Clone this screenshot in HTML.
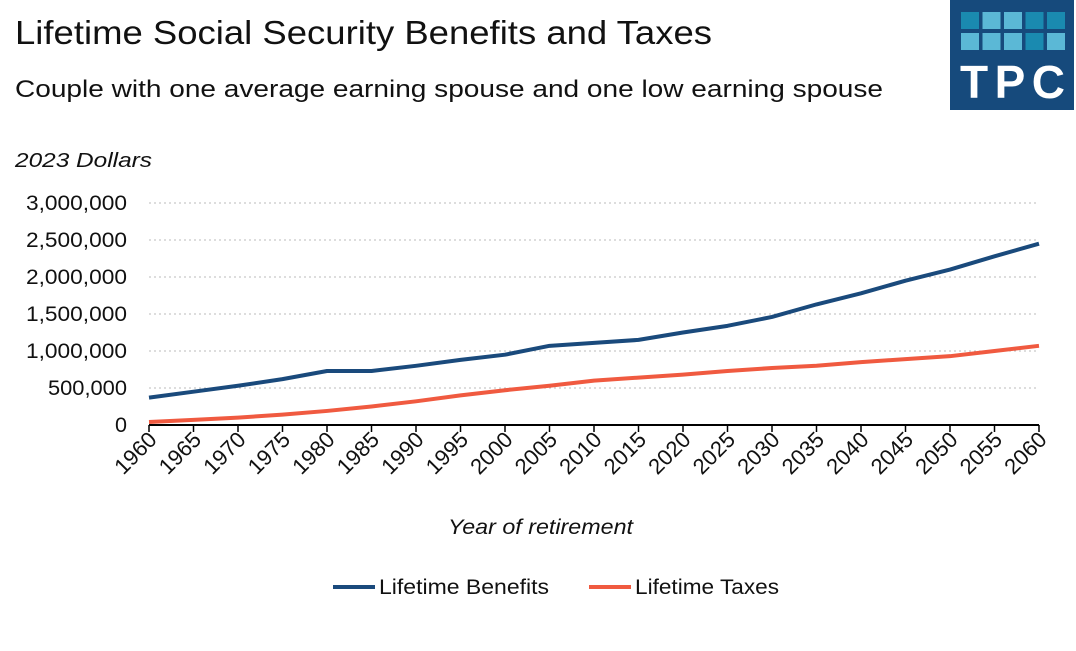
<!DOCTYPE html>
<html><head><meta charset="utf-8"><style>
body{margin:0;background:#fff;width:1076px;height:646px;overflow:hidden;font-family:"Liberation Sans",sans-serif}
</style></head><body>
<svg id="s" width="1076" height="646" xmlns="http://www.w3.org/2000/svg" font-family="Liberation Sans, sans-serif">
<text x="15" y="44" font-size="33" fill="#111" textLength="697" lengthAdjust="spacingAndGlyphs">Lifetime Social Security Benefits and Taxes</text>
<text x="15" y="97" font-size="24" fill="#111" textLength="868" lengthAdjust="spacingAndGlyphs">Couple with one average earning spouse and one low earning spouse</text>
<text x="15" y="167" font-size="20" font-style="italic" fill="#111" textLength="137" lengthAdjust="spacingAndGlyphs">2023 Dollars</text>
<rect x="950" y="0" width="124" height="110" fill="#164a7c"/>
<g id="logo"></g>
<text x="960" y="98" font-size="46" font-weight="bold" fill="#fff" textLength="105" lengthAdjust="spacing">TPC</text>
<g id="g"></g>
<text x="448" y="534" font-size="21" font-style="italic" fill="#111" textLength="185" lengthAdjust="spacingAndGlyphs">Year of retirement</text>
<line x1="333" y1="587" x2="375" y2="587" stroke="#1a4a7c" stroke-width="4"/>
<text x="379" y="594" font-size="21" fill="#111" textLength="170" lengthAdjust="spacingAndGlyphs">Lifetime Benefits</text>
<line x1="589" y1="587" x2="631" y2="587" stroke="#f05a40" stroke-width="4"/>
<text x="635" y="594" font-size="21" fill="#111" textLength="144" lengthAdjust="spacingAndGlyphs">Lifetime Taxes</text>
</svg>
<script>
var ns="http://www.w3.org/2000/svg",g=document.getElementById('g'),h='';
var X=function(i){return 149+i*44.5},Y=function(v){return 425-v*222/3000000};
for(var k=1;k<=6;k++){var y=Y(k*500000);h+='<line x1="149" x2="1039" y1="'+y+'" y2="'+y+'" stroke="#bbb" stroke-dasharray="2,3"/>';}
for(var k=0;k<=6;k++){var s=(k==0?'0':(k*500000).toLocaleString('en-US'));var w=s.length==9?101:(s.length==7?79:12);
h+='<text x="'+(127-w)+'" y="'+(Y(k*500000)+7)+'" font-size="21" fill="#111" textLength="'+w+'" lengthAdjust="spacingAndGlyphs">'+s+'</text>';}
h+='<line x1="149" x2="1039" y1="425" y2="425" stroke="#000" stroke-width="2"/>';
for(var i=0;i<=20;i++){var x=X(i);h+='<line x1="'+x+'" x2="'+x+'" y1="425" y2="432" stroke="#000" stroke-width="1.5"/>';
h+='<text transform="translate('+(x+9)+',441) rotate(-45)" font-size="22" fill="#111" text-anchor="end">'+(1960+5*i)+'</text>';}
var b=[370,450,530,620,730,730,800,880,950,1070,1110,1150,1250,1340,1460,1630,1780,1950,2100,2280,2450];
var t=[40,70,100,140,190,250,320,400,470,530,600,640,680,730,770,800,850,890,930,1000,1070];
function pl(a,c){return '<polyline fill="none" stroke="'+c+'" stroke-width="4" stroke-linejoin="round" points="'+a.map(function(v,i){return X(i)+','+Y(v*1000)}).join(' ')+'"/>';}
h+=pl(b,'#1a4a7c')+pl(t,'#f05a40');
g.innerHTML=h;
var cols=['#1a8ab0','#5bb8d6','#5bb8d6','#1a8ab0','#1a8ab0','#5bb8d6','#5bb8d6','#5bb8d6','#1a8ab0','#5bb8d6'],l='';
for(var r=0;r<2;r++)for(var c=0;c<5;c++)l+='<rect x="'+(961+c*21.5)+'" y="'+(12+r*21)+'" width="18" height="17" fill="'+cols[r*5+c]+'"/>';
document.getElementById('logo').innerHTML=l;
</script>
</body></html>
